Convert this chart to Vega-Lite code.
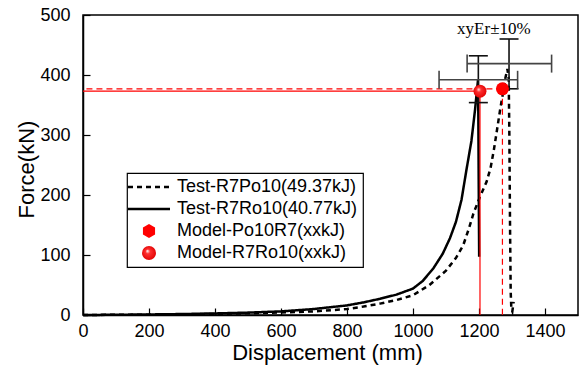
{
  "$schema": "https://vega.github.io/schema/vega-lite/v6.json",
  "width": 495,
  "height": 300,
  "autosize": "none",
  "padding": {"left": 83, "top": 15, "right": 7, "bottom": 50},
  "background": "white",
  "config": {
    "view": {"stroke": "black", "strokeWidth": 1.5},
    "font": "Liberation Sans",
    "axis": {
      "domainColor": "black", "domainWidth": 1.5,
      "tickColor": "black", "tickWidth": 1.2, "tickSize": -7,
      "labelFont": "Liberation Sans", "labelFontSize": 18, "labelColor": "black",
      "titleFont": "Liberation Sans", "titleFontSize": 22, "titleFontWeight": "normal", "titleColor": "black",
      "grid": false, "labelOverlap": false, "labelFlush": false
    }
  },
  "datasets": {
    "test": [
      {"series": "Test-R7Po10(49.37kJ)", "x": 0, "F": 0},
      {"series": "Test-R7Po10(49.37kJ)", "x": 100, "F": 0.3},
      {"series": "Test-R7Po10(49.37kJ)", "x": 200, "F": 0.6},
      {"series": "Test-R7Po10(49.37kJ)", "x": 300, "F": 1.1},
      {"series": "Test-R7Po10(49.37kJ)", "x": 400, "F": 1.8},
      {"series": "Test-R7Po10(49.37kJ)", "x": 500, "F": 2.8},
      {"series": "Test-R7Po10(49.37kJ)", "x": 600, "F": 4.2},
      {"series": "Test-R7Po10(49.37kJ)", "x": 700, "F": 6},
      {"series": "Test-R7Po10(49.37kJ)", "x": 800, "F": 10},
      {"series": "Test-R7Po10(49.37kJ)", "x": 850, "F": 14},
      {"series": "Test-R7Po10(49.37kJ)", "x": 900, "F": 19},
      {"series": "Test-R7Po10(49.37kJ)", "x": 950, "F": 25},
      {"series": "Test-R7Po10(49.37kJ)", "x": 1000, "F": 33},
      {"series": "Test-R7Po10(49.37kJ)", "x": 1050, "F": 50},
      {"series": "Test-R7Po10(49.37kJ)", "x": 1100, "F": 74},
      {"series": "Test-R7Po10(49.37kJ)", "x": 1130, "F": 95},
      {"series": "Test-R7Po10(49.37kJ)", "x": 1152, "F": 116},
      {"series": "Test-R7Po10(49.37kJ)", "x": 1170, "F": 145},
      {"series": "Test-R7Po10(49.37kJ)", "x": 1183, "F": 169},
      {"series": "Test-R7Po10(49.37kJ)", "x": 1203, "F": 197},
      {"series": "Test-R7Po10(49.37kJ)", "x": 1223, "F": 222},
      {"series": "Test-R7Po10(49.37kJ)", "x": 1235, "F": 245},
      {"series": "Test-R7Po10(49.37kJ)", "x": 1245, "F": 275},
      {"series": "Test-R7Po10(49.37kJ)", "x": 1255, "F": 310},
      {"series": "Test-R7Po10(49.37kJ)", "x": 1264, "F": 342},
      {"series": "Test-R7Po10(49.37kJ)", "x": 1272, "F": 368},
      {"series": "Test-R7Po10(49.37kJ)", "x": 1280, "F": 395},
      {"series": "Test-R7Po10(49.37kJ)", "x": 1286, "F": 410},
      {"series": "Test-R7Po10(49.37kJ)", "x": 1290, "F": 395},
      {"series": "Test-R7Po10(49.37kJ)", "x": 1292, "F": 300},
      {"series": "Test-R7Po10(49.37kJ)", "x": 1294, "F": 150},
      {"series": "Test-R7Po10(49.37kJ)", "x": 1296, "F": 40},
      {"series": "Test-R7Po10(49.37kJ)", "x": 1298, "F": 10},
      {"series": "Test-R7Po10(49.37kJ)", "x": 1301, "F": 6},
      {"series": "Test-R7Po10(49.37kJ)", "x": 1305, "F": 22},
      {"series": "Test-R7Ro10(40.77kJ)", "x": 0, "F": 0},
      {"series": "Test-R7Ro10(40.77kJ)", "x": 100, "F": 0.4},
      {"series": "Test-R7Ro10(40.77kJ)", "x": 200, "F": 0.9},
      {"series": "Test-R7Ro10(40.77kJ)", "x": 300, "F": 1.6},
      {"series": "Test-R7Ro10(40.77kJ)", "x": 400, "F": 2.6},
      {"series": "Test-R7Ro10(40.77kJ)", "x": 500, "F": 4},
      {"series": "Test-R7Ro10(40.77kJ)", "x": 600, "F": 6},
      {"series": "Test-R7Ro10(40.77kJ)", "x": 700, "F": 10},
      {"series": "Test-R7Ro10(40.77kJ)", "x": 800, "F": 16},
      {"series": "Test-R7Ro10(40.77kJ)", "x": 850, "F": 21},
      {"series": "Test-R7Ro10(40.77kJ)", "x": 900, "F": 27},
      {"series": "Test-R7Ro10(40.77kJ)", "x": 950, "F": 34},
      {"series": "Test-R7Ro10(40.77kJ)", "x": 1000, "F": 44},
      {"series": "Test-R7Ro10(40.77kJ)", "x": 1030, "F": 57},
      {"series": "Test-R7Ro10(40.77kJ)", "x": 1062, "F": 78},
      {"series": "Test-R7Ro10(40.77kJ)", "x": 1090, "F": 102},
      {"series": "Test-R7Ro10(40.77kJ)", "x": 1112, "F": 128},
      {"series": "Test-R7Ro10(40.77kJ)", "x": 1130, "F": 155},
      {"series": "Test-R7Ro10(40.77kJ)", "x": 1147, "F": 192},
      {"series": "Test-R7Ro10(40.77kJ)", "x": 1162, "F": 242},
      {"series": "Test-R7Ro10(40.77kJ)", "x": 1177, "F": 290},
      {"series": "Test-R7Ro10(40.77kJ)", "x": 1188, "F": 342},
      {"series": "Test-R7Ro10(40.77kJ)", "x": 1194, "F": 375},
      {"series": "Test-R7Ro10(40.77kJ)", "x": 1197, "F": 392},
      {"series": "Test-R7Ro10(40.77kJ)", "x": 1198, "F": 330},
      {"series": "Test-R7Ro10(40.77kJ)", "x": 1199, "F": 230},
      {"series": "Test-R7Ro10(40.77kJ)", "x": 1200, "F": 140},
      {"series": "Test-R7Ro10(40.77kJ)", "x": 1200.5, "F": 97}
    ],
    "models": [
      {"series": "Model-R7Ro10(xxkJ)", "x": 1203, "F": 373},
      {"series": "Model-Po10R7(xxkJ)", "x": 1271, "F": 377}
    ],
    "eb": [
      {"cx": 1198, "cy": 392, "xlo": 1079, "xhi": 1317, "ylo": 354, "yhi": 432},
      {"cx": 1291, "cy": 419, "xlo": 1164, "xhi": 1420, "ylo": 377, "yhi": 460}
    ]
  },
  "layer": [
    {
      "data": {"name": "test"},
      "mark": {"type": "line", "strokeWidth": 2.5, "strokeCap": "butt"},
      "encoding": {
        "x": {"field": "x", "type": "quantitative", "title": "Displacement (mm)", "scale": {"domain": [0, 1500], "nice": false, "zero": false},
              "axis": {"values": [0,100,200,300,400,500,600,700,800,900,1000,1100,1200,1300,1400,1500],
                       "format": "d", "labelExpr": "datum.value % 200 == 0 && datum.value < 1500 ? datum.label : ''",
                       "labelPadding": 14, "titleX": 244, "titleY": 44, "titleBaseline": "alphabetic", "titleAlign": "center"}},
        "y": {"field": "F", "type": "quantitative", "title": "Force(kN)", "scale": {"domain": [0, 500], "nice": false},
              "axis": {"values": [0,50,100,150,200,250,300,350,400,450,500],
                       "format": "d", "labelExpr": "datum.value % 100 == 0 ? datum.label : ''",
                       "labelPadding": 20, "titleX": -57, "titleY": 154, "titleBaseline": "middle", "titleAlign": "center"}},
        "color": {"field": "series", "type": "nominal",
                  "scale": {"domain": ["Test-R7Po10(49.37kJ)", "Test-R7Ro10(40.77kJ)", "Model-Po10R7(xxkJ)", "Model-R7Ro10(xxkJ)"],
                            "range": ["black", "black", "red", "red"]},
                  "legend": {
                    "title": null, "orient": "none", "legendX": 44, "legendY": 158,
                    "strokeColor": "black", "fillColor": "white", "padding": 5,
                    "labelFont": "Liberation Sans", "labelFontSize": 18, "labelColor": "black",
                    "rowPadding": 4, "symbolSize": 196, "labelLimit": 400,
                    "encode": {
                      "legend": {"update": {"strokeWidth": {"value": 1.2}}},
                      "symbols": {"update": {
                        "shape": {"signal": "datum.value == 'Model-Po10R7(xxkJ)' ? 'M0,-1L0.866,-0.5L0.866,0.5L0,1L-0.866,0.5L-0.866,-0.5Z' : datum.value == 'Model-R7Ro10(xxkJ)' ? 'circle' : 'M-3,0H3'"},
                        "fill": {"signal": "datum.value == 'Model-R7Ro10(xxkJ)' ? {gradient: 'radial', x1: 0.38, y1: 0.35, r1: 0, x2: 0.5, y2: 0.5, r2: 0.55, stops: [{offset: 0, color: '#ffffff'}, {offset: 0.3, color: '#ff3030'}, {offset: 1, color: '#e00000'}]} : datum.value == 'Model-Po10R7(xxkJ)' ? '#ff0000' : 'transparent'"},
                        "stroke": {"signal": "datum.value == 'Model-Po10R7(xxkJ)' || datum.value == 'Model-R7Ro10(xxkJ)' ? 'transparent' : 'black'"},
                        "strokeDash": {"signal": "datum.value == 'Test-R7Po10(49.37kJ)' ? [9, 16] : []"},
                        "strokeWidth": {"signal": "datum.value == 'Model-Po10R7(xxkJ)' || datum.value == 'Model-R7Ro10(xxkJ)' ? 0 : 2.5"},
                        "size": {"value": 196},
                        "opacity": {"value": 1},
                        "x": {"value": 17}
                      }},
                      "labels": {"update": {"x": {"value": 45}}}
                    }
                  }},
        "strokeDash": {"field": "series", "type": "nominal",
                       "scale": {"domain": ["Test-R7Po10(49.37kJ)", "Test-R7Ro10(40.77kJ)", "Model-Po10R7(xxkJ)", "Model-R7Ro10(xxkJ)"],
                                 "range": [[5, 4], [1, 0], [6, 4], [1, 0]]},
                       "legend": null}
      }
    },
    {
      "data": {"name": "models"},
      "mark": {"type": "rule", "color": "red", "strokeWidth": 1.2},
      "encoding": {
        "x": {"field": "x", "type": "quantitative", "title": "Displacement (mm)"},
        "x2": {"datum": 0},
        "y": {"field": "F", "type": "quantitative", "title": "Force(kN)"},
        "strokeDash": {"field": "series", "type": "nominal", "legend": null}
      }
    },
    {
      "data": {"name": "models"},
      "mark": {"type": "rule", "color": "red", "strokeWidth": 1.2},
      "encoding": {
        "x": {"field": "x", "type": "quantitative", "title": "Displacement (mm)"},
        "y": {"field": "F", "type": "quantitative", "title": "Force(kN)"},
        "y2": {"datum": 0},
        "strokeDash": {"field": "series", "type": "nominal", "legend": null}
      }
    },
    {
      "data": {"name": "eb"},
      "mark": {"type": "rule", "color": "#111111", "strokeWidth": 1.6},
      "encoding": {
        "x": {"field": "cx", "type": "quantitative", "title": "Displacement (mm)"},
        "y": {"field": "ylo", "type": "quantitative", "title": "Force(kN)"},
        "y2": {"field": "yhi"}
      }
    },
    {
      "data": {"name": "eb"},
      "mark": {"type": "rule", "color": "#444444", "strokeWidth": 1.6},
      "encoding": {
        "y": {"field": "cy", "type": "quantitative", "title": "Force(kN)"},
        "x": {"field": "xlo", "type": "quantitative", "title": "Displacement (mm)"},
        "x2": {"field": "xhi"}
      }
    },
    {
      "data": {"name": "eb"},
      "mark": {"type": "tick", "orient": "horizontal", "color": "#111111", "thickness": 1.6, "size": 19, "opacity": 1},
      "encoding": {
        "x": {"field": "cx", "type": "quantitative", "title": "Displacement (mm)"},
        "y": {"field": "ylo", "type": "quantitative", "title": "Force(kN)"}
      }
    },
    {
      "data": {"name": "eb"},
      "mark": {"type": "tick", "orient": "horizontal", "color": "#111111", "thickness": 1.6, "size": 19, "opacity": 1},
      "encoding": {
        "x": {"field": "cx", "type": "quantitative", "title": "Displacement (mm)"},
        "y": {"field": "yhi", "type": "quantitative", "title": "Force(kN)"}
      }
    },
    {
      "data": {"name": "eb"},
      "mark": {"type": "tick", "orient": "vertical", "color": "#444444", "thickness": 1.6, "size": 18, "opacity": 1},
      "encoding": {
        "x": {"field": "xlo", "type": "quantitative", "title": "Displacement (mm)"},
        "y": {"field": "cy", "type": "quantitative", "title": "Force(kN)"}
      }
    },
    {
      "data": {"name": "eb"},
      "mark": {"type": "tick", "orient": "vertical", "color": "#444444", "thickness": 1.6, "size": 18, "opacity": 1},
      "encoding": {
        "x": {"field": "xhi", "type": "quantitative", "title": "Displacement (mm)"},
        "y": {"field": "cy", "type": "quantitative", "title": "Force(kN)"}
      }
    },
    {
      "data": {"name": "models"},
      "transform": [{"filter": "datum.series == 'Model-Po10R7(xxkJ)'"}],
      "mark": {"type": "point", "shape": "circle", "filled": true, "size": 169, "fill": "#ff0000", "strokeWidth": 0, "opacity": 1},
      "encoding": {
        "x": {"field": "x", "type": "quantitative", "title": "Displacement (mm)"},
        "y": {"field": "F", "type": "quantitative", "title": "Force(kN)"}
      }
    },
    {
      "data": {"name": "models"},
      "transform": [{"filter": "datum.series == 'Model-R7Ro10(xxkJ)'"}],
      "mark": {"type": "point", "shape": "circle", "filled": true, "size": 169, "strokeWidth": 0, "opacity": 1,
               "fill": {"gradient": "radial", "x1": 0.38, "y1": 0.35, "r1": 0, "x2": 0.5, "y2": 0.5, "r2": 0.55,
                        "stops": [{"offset": 0, "color": "#ffffff"}, {"offset": 0.3, "color": "#ff3030"}, {"offset": 1, "color": "#e00000"}]}},
      "encoding": {
        "x": {"field": "x", "type": "quantitative", "title": "Displacement (mm)"},
        "y": {"field": "F", "type": "quantitative", "title": "Force(kN)"}
      }
    },
    {
      "data": {"values": [{"x": 1245, "F": 468, "label": "xyEr±10%"}]},
      "mark": {"type": "text", "font": "Liberation Serif", "fontSize": 17, "color": "black", "align": "center", "baseline": "alphabetic"},
      "encoding": {
        "x": {"field": "x", "type": "quantitative", "title": "Displacement (mm)"},
        "y": {"field": "F", "type": "quantitative", "title": "Force(kN)"},
        "text": {"field": "label"}
      }
    }
  ]
}
